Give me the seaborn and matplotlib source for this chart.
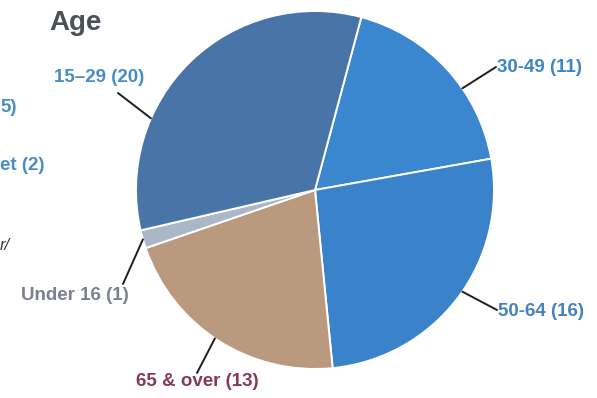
import numpy as np
import matplotlib
matplotlib.use("Agg")
import matplotlib.pyplot as plt
import seaborn as sns

# Age breakdown (clockwise from the top)
age_groups = ["30-49", "50-64", "65 & over", "Under 16", "15\u201329"]
counts = [11, 16, 13, 1, 20]

slice_colors = ["#3a87cf", "#3a82ca", "#ba9a7f", "#a9b7c7", "#4874a7"]
label_colors = ["#3b86c4", "#4682bd", "#8a3a50", "#7c818e", "#4a8dc6"]

sns.set_theme(style="white")
plt.rcParams["font.family"] = ["Liberation Sans", "DejaVu Sans"]

W, H = 597, 398
fig = plt.figure(figsize=(W / 100, H / 100), dpi=100)
ax = fig.add_axes([0, 0, 1, 1])

cx, cy, radius = 315, H - 190, 179
start = 75  # first wedge starts 15 degrees clockwise of 12 o'clock

ax.pie(counts, colors=slice_colors, startangle=start, counterclock=False,
       center=(cx, cy), radius=radius,
       wedgeprops=dict(edgecolor="white", linewidth=1.4))

# leader lines: angle on the rim (clockwise from top), line end, text anchor
callouts = [
    (55.4, (496, 67), (497, 68), "left"),
    (124.6, (497, 310), (498, 312), "left"),
    (214.0, (197, 373), (197, 382), "center"),
    (254.0, (123, 284), (129, 295), "right"),
    (293.6, (118, 93), (99, 77), "center"),
]

for (ang, end, txt, ha), g, c, col in zip(callouts, age_groups, counts, label_colors):
    a = np.deg2rad(ang)
    ex = cx + radius * np.sin(a)
    ey = cy + radius * np.cos(a)
    ax.plot([ex, end[0]], [ey, H - end[1]], color="#1e1e1e", lw=1.4,
            solid_capstyle="round", zorder=3)
    ax.text(txt[0], H - txt[1], f"{g} ({c})", ha=ha, va="center",
            fontsize=13.5, fontweight="bold", color=col, zorder=4)

ax.text(75, H - 23, "Age", ha="center", va="center", fontsize=20,
        fontweight="bold", color="#4c505a")

# text from the neighbouring panel at the left edge
ax.text(0, H - 108, "5)", ha="left", va="center", fontsize=13.5,
        fontweight="bold", color="#4a8dc6")
ax.text(0, H - 165, "et (2)", ha="left", va="center", fontsize=13.5,
        fontweight="bold", color="#4a8dc6")
ax.text(0, H - 246, "r/", ha="left", va="center", fontsize=12,
        style="italic", color="#3a3a3a")

ax.set_xlim(0, W)
ax.set_ylim(0, H)
ax.set_aspect("equal")
ax.axis("off")

fig.savefig("out.png", dpi=100, facecolor="white")
